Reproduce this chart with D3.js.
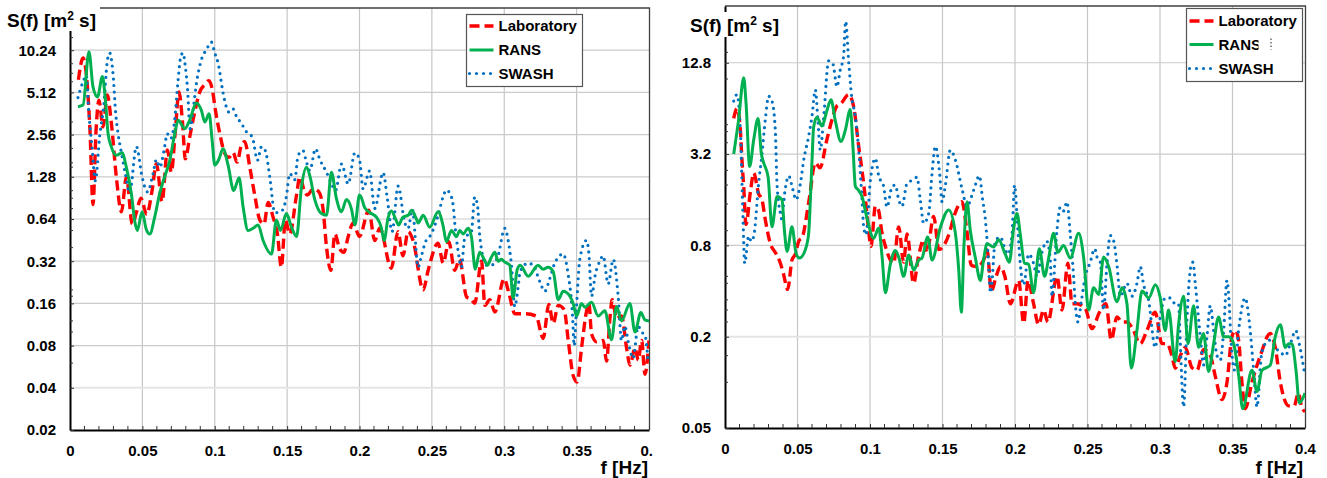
<!DOCTYPE html>
<html><head><meta charset="utf-8">
<script src="https://cdn.jsdelivr.net/npm/d3@7"></script>
<style>
html,body{margin:0;padding:0;background:#fff;}
svg{display:block;font-family:"Liberation Sans",Arial,sans-serif;font-weight:bold;}
</style></head><body>
<svg id="c" width="1327" height="478"></svg>
<script>
// ---------- DATA ----------
const seriesNames = ["Laboratory", "RANS", "SWASH"];
const xTicks = [0, 0.05, 0.1, 0.15, 0.2, 0.25, 0.3, 0.35, 0.4];
const xLabelsA = ["0", "0.05", "0.1", "0.15", "0.2", "0.25", "0.3", "0.35", "0."];
const xLabelsB = ["0", "0.05", "0.1", "0.15", "0.2", "0.25", "0.3", "0.35", "0.4"];
const yTicksA = [0.02, 0.04, 0.08, 0.16, 0.32, 0.64, 1.28, 2.56, 5.12, 10.24];
const yLabelsA = ["0.02", "0.04", "0.08", "0.16", "0.32", "0.64", "1.28", "2.56", "5.12", "10.24"];
const yMinorA = [12.6, 8.2, 7.0, 6.1, 3.15, 2.04, 1.61, 1.5, 1.02, 0.9, 0.76, 0.53, 0.4, 0.2, 0.18, 0.12, 0.1, 0.06];
const yTicksB = [0.05, 0.2, 0.8, 3.2, 12.8];
const yLabelsB = ["0.05", "0.2", "0.8", "3.2", "12.8"];
const yMinorB = [15, 10, 5, 4.5, 3.8, 2.5, 2, 1.5, 1, 0.5, 0.45, 0.35, 0.3, 0.25, 0.15, 0.1];

// left panel: [f (Hz), S(f)]
const leftLab = [[0.0058,6.3],[0.009,9.0],[0.012,5.65],[0.0138,2.75],[0.0159,0.81],[0.018,2.75],[0.020,4.5],[0.0228,2.9],[0.0258,4.9],[0.0286,3.07],[0.032,1.28],[0.0355,0.72],[0.039,1.28],[0.043,0.59],[0.046,0.72],[0.049,0.90],[0.053,0.69],[0.0567,1.02],[0.0597,1.59],[0.0636,0.85],[0.0673,1.99],[0.070,1.38],[0.0728,2.75],[0.0753,5.15],[0.0776,3.25],[0.0797,1.72],[0.0827,2.46],[0.0862,3.72],[0.0896,5.15],[0.093,5.8],[0.096,6.2],[0.0984,5.3],[0.1005,3.8],[0.1035,2.6],[0.107,1.87],[0.1097,1.76],[0.1127,1.9],[0.1154,1.63],[0.1184,2.15],[0.1207,2.28],[0.1242,1.5],[0.1276,0.95],[0.1311,0.63],[0.134,0.59],[0.1369,0.84],[0.1403,0.66],[0.1433,0.50],[0.146,0.29],[0.1488,0.63],[0.1518,0.5],[0.1565,0.95],[0.1588,1.28],[0.1618,1.02],[0.164,0.95],[0.168,1.05],[0.1719,1.0],[0.1749,0.74],[0.1772,0.405],[0.1802,0.275],[0.183,0.5],[0.1864,0.39],[0.1892,0.37],[0.1922,0.48],[0.1956,0.6],[0.2,0.48],[0.2064,0.74],[0.2105,0.45],[0.214,0.55],[0.222,0.285],[0.2266,0.52],[0.230,0.35],[0.2336,0.52],[0.237,0.45],[0.244,0.2],[0.2474,0.275],[0.2543,0.43],[0.2578,0.31],[0.2617,0.44],[0.2658,0.275],[0.269,0.33],[0.274,0.178],[0.2773,0.17],[0.2796,0.16],[0.2843,0.32],[0.2866,0.155],[0.29,0.17],[0.2935,0.139],[0.2999,0.24],[0.3032,0.19],[0.3073,0.135],[0.315,0.135],[0.322,0.13],[0.3269,0.09],[0.3308,0.157],[0.3338,0.115],[0.3373,0.155],[0.3414,0.145],[0.3442,0.087],[0.3476,0.049],[0.3504,0.044],[0.3534,0.077],[0.3568,0.14],[0.3585,0.16],[0.3603,0.097],[0.3638,0.085],[0.3684,0.087],[0.3707,0.062],[0.373,0.125],[0.3746,0.17],[0.3776,0.125],[0.381,0.13],[0.3845,0.077],[0.3868,0.058],[0.3903,0.077],[0.3926,0.063],[0.3949,0.087],[0.3972,0.05],[0.4,0.087]];
const leftRans = [[0.0055,4.05],[0.009,4.16],[0.0131,10.0],[0.0159,5.6],[0.019,4.75],[0.0224,6.65],[0.0244,4.6],[0.0263,2.6],[0.0286,2.09],[0.032,1.82],[0.036,1.9],[0.0389,1.5],[0.0424,0.97],[0.0447,0.62],[0.0465,0.53],[0.0498,0.72],[0.0527,0.54],[0.0551,0.50],[0.0585,0.66],[0.062,0.98],[0.0654,1.28],[0.0689,1.67],[0.0724,2.6],[0.0747,3.24],[0.0793,2.82],[0.0827,3.25],[0.0873,4.3],[0.0908,3.8],[0.0931,3.15],[0.0961,3.6],[0.0982,2.33],[0.100,1.55],[0.1028,1.7],[0.1057,2.03],[0.1092,1.55],[0.1131,1.02],[0.1168,1.26],[0.1196,0.78],[0.1230,0.53],[0.1265,0.55],[0.13,0.58],[0.1334,0.45],[0.1392,0.36],[0.1426,0.63],[0.1454,0.53],[0.1495,0.7],[0.153,0.56],[0.1565,0.48],[0.1599,1.08],[0.1634,1.5],[0.1657,1.3],[0.1691,0.88],[0.1737,0.7],[0.1772,0.68],[0.1806,1.38],[0.184,0.9],[0.1875,0.72],[0.191,0.88],[0.1945,0.75],[0.1968,0.58],[0.2,0.95],[0.2013,0.91],[0.2036,0.77],[0.2082,0.7],[0.2117,0.66],[0.215,0.56],[0.217,0.45],[0.2197,0.65],[0.222,0.73],[0.2255,0.62],[0.227,0.58],[0.230,0.66],[0.2336,0.68],[0.236,0.74],[0.2393,0.64],[0.2405,0.6],[0.244,0.68],[0.2485,0.56],[0.2543,0.72],[0.2578,0.57],[0.26,0.44],[0.2635,0.53],[0.267,0.48],[0.2693,0.53],[0.2716,0.5],[0.275,0.55],[0.2773,0.48],[0.28,0.28],[0.283,0.37],[0.2861,0.33],[0.2884,0.3],[0.291,0.34],[0.2935,0.37],[0.2958,0.32],[0.298,0.33],[0.3004,0.315],[0.3038,0.3],[0.3061,0.175],[0.309,0.28],[0.311,0.3],[0.3165,0.25],[0.3234,0.3],[0.3269,0.28],[0.3303,0.29],[0.3338,0.27],[0.3373,0.17],[0.3407,0.195],[0.3453,0.18],[0.3476,0.16],[0.35,0.13],[0.3534,0.16],[0.3557,0.15],[0.3603,0.163],[0.3649,0.13],[0.3695,0.142],[0.3741,0.088],[0.3776,0.152],[0.381,0.12],[0.3868,0.16],[0.3903,0.1],[0.3944,0.138],[0.3972,0.122],[0.4,0.12]];
const leftSwash = [[0.0055,4.7],[0.009,6.1],[0.0113,6.8],[0.0129,3.8],[0.0152,2.1],[0.0175,1.2],[0.0205,2.5],[0.0235,4.3],[0.0256,8.3],[0.0274,9.8],[0.0297,7.0],[0.0316,3.6],[0.0332,2.6],[0.035,2.03],[0.0382,1.35],[0.0412,0.99],[0.0459,2.1],[0.0498,1.28],[0.0535,1.0],[0.0574,1.35],[0.0597,1.7],[0.062,1.5],[0.0654,2.1],[0.0671,2.6],[0.0696,2.4],[0.0723,3.25],[0.0747,6.3],[0.0765,9.2],[0.0781,9.8],[0.0797,7.8],[0.0811,5.6],[0.083,2.82],[0.085,3.8],[0.0873,5.9],[0.0908,8.8],[0.0942,10.3],[0.0977,11.7],[0.1,9.8],[0.1023,8.3],[0.1058,5.05],[0.1081,4.0],[0.1099,3.7],[0.1127,3.9],[0.115,3.45],[0.1184,3.08],[0.1219,2.68],[0.126,2.45],[0.1295,1.68],[0.1323,2.1],[0.135,1.96],[0.138,1.28],[0.1415,0.71],[0.1449,0.72],[0.1472,0.75],[0.1495,0.93],[0.1518,1.35],[0.1553,1.22],[0.1576,1.82],[0.161,1.97],[0.1629,1.7],[0.1657,1.42],[0.1696,2.03],[0.1726,1.7],[0.1772,1.38],[0.1818,1.08],[0.1834,1.02],[0.1876,1.58],[0.1922,1.14],[0.1968,1.9],[0.2,1.7],[0.2025,1.05],[0.207,1.41],[0.2105,0.76],[0.2163,1.37],[0.2192,0.9],[0.2225,0.52],[0.2267,1.1],[0.2313,0.6],[0.2336,0.55],[0.2365,0.75],[0.2405,0.29],[0.2428,0.35],[0.246,0.45],[0.2485,0.48],[0.2543,0.68],[0.2577,0.92],[0.26,1.03],[0.2623,0.98],[0.2647,0.8],[0.2658,0.6],[0.2681,0.38],[0.2704,0.29],[0.2727,0.47],[0.2773,0.52],[0.2796,0.92],[0.2815,0.8],[0.2832,0.47],[0.2877,0.3],[0.2912,0.3],[0.2957,0.35],[0.3004,0.55],[0.3027,0.45],[0.305,0.3],[0.3073,0.152],[0.3096,0.21],[0.311,0.27],[0.3165,0.31],[0.3199,0.3],[0.3245,0.23],[0.328,0.195],[0.3314,0.24],[0.3349,0.31],[0.3407,0.36],[0.3441,0.26],[0.3472,0.13],[0.3483,0.08],[0.3499,0.15],[0.3522,0.33],[0.3568,0.45],[0.3585,0.36],[0.3603,0.18],[0.363,0.26],[0.366,0.32],[0.3683,0.35],[0.3718,0.22],[0.3753,0.33],[0.3787,0.18],[0.381,0.087],[0.3833,0.11],[0.3857,0.085],[0.389,0.065],[0.3925,0.11],[0.3949,0.1],[0.3972,0.095],[0.3995,0.059]];

// right panel: [f (Hz), S(f)]
const rightLab = [[0.006,5.5],[0.0083,6.4],[0.0106,4.6],[0.0117,2.93],[0.0129,1.96],[0.0145,1.1],[0.0175,1.8],[0.0198,2.4],[0.0232,1.75],[0.0255,1.6],[0.0278,1.18],[0.0313,0.82],[0.035,0.71],[0.0382,0.61],[0.0403,0.52],[0.0432,0.41],[0.0462,0.64],[0.0485,0.7],[0.0508,0.85],[0.0534,0.91],[0.058,1.6],[0.0623,2.8],[0.0655,2.6],[0.0703,4.0],[0.0738,5.4],[0.077,6.6],[0.08,6.9],[0.0853,7.9],[0.0887,6.6],[0.0922,3.6],[0.0945,2.5],[0.0972,1.5],[0.099,1.01],[0.1007,0.79],[0.1037,1.45],[0.106,1.35],[0.108,1.0],[0.1106,0.79],[0.1163,0.61],[0.1198,1.06],[0.1232,0.62],[0.1255,0.95],[0.1301,0.45],[0.1335,0.68],[0.137,0.87],[0.1393,0.72],[0.1439,1.24],[0.1475,0.75],[0.151,0.8],[0.1545,0.95],[0.158,1.25],[0.1634,1.55],[0.1668,1.0],[0.1699,0.59],[0.1738,0.58],[0.1784,0.64],[0.1807,0.75],[0.1837,0.4],[0.187,0.5],[0.1899,0.58],[0.193,0.5],[0.1968,0.33],[0.2025,0.47],[0.206,0.245],[0.209,0.47],[0.2128,0.33],[0.2163,0.24],[0.2197,0.30],[0.2227,0.25],[0.229,0.5],[0.2324,0.30],[0.2365,0.61],[0.2393,0.33],[0.2428,0.33],[0.2462,0.32],[0.249,0.3],[0.253,0.226],[0.2583,0.29],[0.2627,0.33],[0.2664,0.19],[0.2703,0.27],[0.2738,0.25],[0.2772,0.25],[0.2807,0.23],[0.2864,0.18],[0.291,0.22],[0.2967,0.29],[0.3013,0.18],[0.3048,0.18],[0.3082,0.15],[0.3105,0.124],[0.314,0.15],[0.3174,0.17],[0.322,0.125],[0.3255,0.12],[0.3301,0.165],[0.3347,0.15],[0.3381,0.11],[0.3427,0.077],[0.3462,0.1],[0.3496,0.2],[0.352,0.22],[0.3542,0.19],[0.3565,0.1],[0.3588,0.067],[0.3634,0.1],[0.3692,0.15],[0.376,0.21],[0.3795,0.17],[0.383,0.1],[0.3887,0.07],[0.3925,0.07],[0.3955,0.085],[0.3975,0.07],[0.4,0.064]];
const rightRans = [[0.006,3.2],[0.0094,5.4],[0.0129,10.2],[0.0145,6.95],[0.017,2.65],[0.0198,3.97],[0.0228,5.5],[0.0251,3.2],[0.0267,2.8],[0.0297,2.27],[0.0324,1.06],[0.0359,1.68],[0.0393,1.6],[0.041,1.0],[0.0428,0.73],[0.0462,1.06],[0.049,0.71],[0.0513,0.66],[0.0554,0.75],[0.0577,0.96],[0.0593,2.0],[0.0602,3.2],[0.0611,4.8],[0.0634,5.6],[0.0669,4.9],[0.0703,6.2],[0.0731,7.3],[0.0761,5.3],[0.08,3.87],[0.083,4.6],[0.0864,6.3],[0.0883,3.5],[0.0899,1.96],[0.092,1.85],[0.0945,1.68],[0.098,1.2],[0.1025,0.89],[0.106,1.04],[0.1083,0.68],[0.1106,0.39],[0.114,0.6],[0.1175,0.74],[0.12,0.66],[0.1232,0.50],[0.1267,0.69],[0.1301,0.55],[0.1336,0.64],[0.1359,0.66],[0.1398,0.91],[0.1428,0.64],[0.1485,1.05],[0.1543,1.37],[0.1589,0.96],[0.1612,0.55],[0.163,0.29],[0.1648,0.8],[0.1669,1.55],[0.1692,1.0],[0.1727,0.66],[0.1761,0.47],[0.1784,0.65],[0.1807,0.82],[0.1853,0.78],[0.1887,0.87],[0.1933,0.7],[0.1961,0.62],[0.199,1.03],[0.2014,1.3],[0.2036,0.95],[0.2066,0.61],[0.2094,0.6],[0.2128,0.39],[0.2168,0.76],[0.2204,0.5],[0.2232,0.66],[0.2266,0.96],[0.2296,0.72],[0.2335,0.8],[0.2381,0.66],[0.2439,0.96],[0.2473,0.67],[0.2508,0.3],[0.2542,0.42],[0.2577,0.38],[0.2611,0.67],[0.2646,0.58],[0.2703,0.34],[0.2738,0.42],[0.2772,0.33],[0.2802,0.124],[0.2841,0.22],[0.2876,0.4],[0.2922,0.36],[0.2968,0.44],[0.3002,0.36],[0.3036,0.22],[0.3059,0.3],[0.3105,0.137],[0.3128,0.24],[0.3163,0.37],[0.3193,0.18],[0.3232,0.32],[0.3266,0.17],[0.33,0.21],[0.3335,0.118],[0.337,0.18],[0.3404,0.27],[0.3439,0.2],[0.3474,0.2],[0.3508,0.18],[0.3543,0.11],[0.357,0.067],[0.3634,0.12],[0.3669,0.087],[0.3703,0.12],[0.3761,0.13],[0.3795,0.2],[0.383,0.24],[0.3864,0.17],[0.3887,0.18],[0.391,0.18],[0.3938,0.12],[0.3961,0.073],[0.4,0.085]];
const rightSwash = [[0.006,7.15],[0.0083,7.9],[0.0106,4.6],[0.0122,1.44],[0.0136,0.61],[0.0163,0.92],[0.0182,0.85],[0.02,0.94],[0.0232,2.06],[0.0255,3.2],[0.0278,5.4],[0.0301,7.7],[0.0324,7.15],[0.0347,4.6],[0.0359,2.0],[0.0382,1.3],[0.0389,1.2],[0.0416,1.9],[0.0439,2.3],[0.0466,1.9],[0.049,1.6],[0.052,2.05],[0.0543,2.93],[0.0577,4.2],[0.06,5.7],[0.0623,8.5],[0.064,5.5],[0.0657,3.4],[0.068,5.5],[0.0715,13.2],[0.0745,12.5],[0.0772,8.9],[0.0795,11.5],[0.0818,14.2],[0.0832,24],[0.0853,13],[0.0874,7.6],[0.0897,5.8],[0.0922,3.4],[0.0945,1.6],[0.0956,1.07],[0.0972,0.94],[0.1003,2.16],[0.1037,3.0],[0.106,2.3],[0.1094,1.96],[0.1117,1.43],[0.1152,1.95],[0.1175,2.0],[0.1198,1.6],[0.1221,1.45],[0.1255,2.05],[0.129,2.15],[0.1324,2.25],[0.1347,1.6],[0.137,1.12],[0.1405,1.3],[0.1428,2.4],[0.1451,3.6],[0.148,2.4],[0.1497,1.55],[0.152,2.0],[0.1554,3.4],[0.159,2.9],[0.1634,1.9],[0.1669,1.45],[0.1715,1.85],[0.1754,2.3],[0.1777,1.6],[0.1795,1.2],[0.181,0.8],[0.1832,0.39],[0.1864,0.85],[0.1899,0.91],[0.1933,0.75],[0.1952,0.7],[0.198,0.96],[0.1997,2.0],[0.2013,1.3],[0.2025,0.85],[0.2036,0.61],[0.206,0.44],[0.2094,0.7],[0.213,0.6],[0.2151,0.5],[0.2186,0.72],[0.222,0.85],[0.2243,0.65],[0.2255,0.37],[0.2289,1.0],[0.2312,1.43],[0.2335,1.35],[0.2358,1.55],[0.2381,0.95],[0.2404,0.5],[0.2416,0.33],[0.2434,0.25],[0.2457,0.34],[0.2485,0.5],[0.2519,0.62],[0.2549,0.76],[0.2572,0.64],[0.2588,0.62],[0.2611,0.3],[0.2634,0.6],[0.2657,0.93],[0.268,0.86],[0.2703,0.6],[0.2726,0.37],[0.2772,0.45],[0.2807,0.37],[0.2841,0.45],[0.2864,0.58],[0.2887,0.44],[0.2921,0.35],[0.2967,0.17],[0.2992,0.24],[0.3036,0.36],[0.307,0.36],[0.3105,0.33],[0.3128,0.33],[0.314,0.18],[0.3163,0.069],[0.3186,0.26],[0.321,0.56],[0.3227,0.62],[0.3245,0.43],[0.3278,0.2],[0.33,0.13],[0.3324,0.2],[0.3347,0.32],[0.337,0.22],[0.3393,0.15],[0.3416,0.14],[0.3439,0.22],[0.3462,0.47],[0.3474,0.37],[0.3491,0.18],[0.3515,0.12],[0.3542,0.22],[0.3588,0.36],[0.3616,0.25],[0.3646,0.12],[0.3669,0.069],[0.3699,0.15],[0.3726,0.18],[0.3761,0.19],[0.3795,0.17],[0.384,0.155],[0.3864,0.15],[0.3899,0.18],[0.3936,0.22],[0.396,0.18],[0.4,0.11]];

// ---------- LAYOUT / STYLE ----------
const styles = [
  {color: "#ff0000", width: 3.4, dash: "10,5", cap: "butt"},
  {color: "#00b050", width: 3, dash: null, cap: "butt"},
  {color: "#0070c0", width: 3.2, dash: "0,6.5", cap: "round"}
];
const panels = [
  {x0: 70, x1: 649, yTop: 8, yBot: 430, yDom: [0.02, 20.48], yTicks: yTicksA, yLabels: yLabelsA, yMinor: yMinorA,
   xLabels: xLabelsA, data: [leftLab, leftRans, leftSwash], lightTick: 0.04,
   title: {x: 7, y: 27, box: [0, 0, 100, 31]}, fx: 648, legend: {x: 466, y: 14, w: 116, h: 72, rows: [26, 50, 73.5]}, clipRans: null},
  {x0: 725, x1: 1305, yTop: 6, yBot: 428, yDom: [0.05, 30.3], yTicks: yTicksB, yLabels: yLabelsB, yMinor: yMinorB,
   xLabels: xLabelsB, data: [rightLab, rightRans, rightSwash], lightTick: 0.2,
   title: {x: 690, y: 32, box: [686, 12, 96, 25]}, fx: 1303, legend: {x: 1186, y: 8, w: 116, h: 73, rows: [21, 44.5, 68.5]}, clipRans: 1258.5}
];

const svg = d3.select("#c");
const defs = svg.append("defs");

panels.forEach((p, pi) => {
  const g = svg.append("g");
  const x = d3.scaleLinear().domain([0, 0.4]).range([p.x0, p.x1]);
  const y = d3.scaleLog().base(2).domain(p.yDom).range([p.yBot, p.yTop]);

  // grid
  g.append("g").selectAll("line").data(xTicks.slice(1, -1)).join("line")
    .attr("x1", d => x(d)).attr("x2", d => x(d)).attr("y1", p.yTop).attr("y2", p.yBot)
    .attr("stroke", "#c6c6c6").attr("stroke-width", 1.2);
  g.append("g").selectAll("line").data(p.yTicks.slice(1)).join("line")
    .attr("x1", p.x0).attr("x2", p.x1).attr("y1", d => y(d)).attr("y2", d => y(d))
    .attr("stroke", d => d === p.lightTick ? "#e4e4e4" : "#cbcbcb")
    .attr("stroke-width", d => d === p.lightTick ? 2 : 1.2);

  // frame (top, right)
  g.append("path").attr("d", `M${p.x0},${p.yTop}H${p.x1 + 0.5}V${p.yBot}`)
    .attr("fill", "none").attr("stroke", "#404040").attr("stroke-width", 1.3);

  // series
  const cid = "clip" + pi;
  defs.append("clipPath").attr("id", cid).append("rect")
    .attr("x", p.x0).attr("y", p.yTop).attr("width", p.x1 - p.x0).attr("height", p.yBot - p.yTop);
  const line = d3.line().x(d => x(d[0])).y(d => y(d[1])).curve(d3.curveMonotoneX);
  const sg = g.append("g").attr("clip-path", `url(#${cid})`);
  [0, 2, 1].forEach(si => {
    const s = styles[si];
    sg.append("path").datum(p.data[si]).attr("d", line)
      .attr("fill", "none").attr("stroke", s.color).attr("stroke-width", s.width)
      .attr("stroke-dasharray", s.dash).attr("stroke-linecap", s.cap).attr("stroke-linejoin", "round");
  });

  // x axis
  const xa = g.append("g").attr("transform", `translate(0,${p.yBot})`)
    .call(d3.axisBottom(x).tickValues(xTicks).tickFormat((d, i) => p.xLabels[i]).tickSizeInner(-4).tickSizeOuter(0).tickPadding(15));
  xa.select(".domain").attr("stroke", "#000").attr("stroke-width", 2);
  xa.selectAll(".tick line").attr("stroke", "#333");
  xa.selectAll("text").attr("font-size", 15).attr("font-weight", "bold").attr("fill", "#000")
    .attr("font-family", '"Liberation Sans",Arial,sans-serif');
  if (pi === 0) xa.selectAll(".tick").filter(d => d === 0.4).select("text").attr("text-anchor", "start").attr("x", -9);
  g.append("g").selectAll("line").data(d3.range(1, 40).filter(k => k % 5 !== 0).map(k => k / 100)).join("line")
    .attr("x1", d => x(d)).attr("x2", d => x(d)).attr("y1", p.yBot).attr("y2", p.yBot - 4)
    .attr("stroke", "#333").attr("stroke-width", 1);

  // y axis
  const ya = g.append("g").attr("transform", `translate(${p.x0},0)`)
    .call(d3.axisLeft(y).tickValues(p.yTicks).tickFormat((d, i) => p.yLabels[i]).tickSizeInner(-4).tickSizeOuter(0).tickPadding(14));
  ya.select(".domain").attr("stroke", "#000").attr("stroke-width", 2);
  ya.selectAll(".tick line").attr("stroke", "#333");
  ya.selectAll("text").attr("font-size", 15).attr("font-weight", "bold").attr("fill", "#000")
    .attr("font-family", '"Liberation Sans",Arial,sans-serif');
  g.append("g").selectAll("line").data(p.yMinor).join("line")
    .attr("x1", p.x0).attr("x2", p.x0 + 3).attr("y1", d => y(d)).attr("y2", d => y(d))
    .attr("stroke", "#333").attr("stroke-width", 1);

  // y title
  const tb = p.title.box;
  g.append("rect").attr("x", tb[0]).attr("y", tb[1]).attr("width", tb[2]).attr("height", tb[3]).attr("fill", "#fff");
  const t = g.append("text").attr("x", p.title.x).attr("y", p.title.y).attr("font-size", 19).attr("fill", "#000");
  t.append("tspan").text("S(f) [m");
  t.append("tspan").attr("font-size", 12).attr("dy", -7).text("2");
  t.append("tspan").attr("dy", 7).text(" s]");

  // x title
  g.append("text").attr("x", p.fx).attr("y", 474).attr("text-anchor", "end").attr("font-size", 19).attr("fill", "#000").text("f [Hz]");

  // legend
  const L = p.legend;
  const lg = g.append("g");
  lg.append("rect").attr("x", L.x + 0.5).attr("y", L.y + 0.5).attr("width", L.w).attr("height", L.h)
    .attr("fill", "#fff").attr("stroke", "#555").attr("stroke-width", 1.2);
  seriesNames.forEach((name, si) => {
    const s = styles[si];
    const yy = L.rows[si];
    lg.append("line").attr("x1", L.x + 3.5).attr("x2", L.x + 27.5).attr("y1", yy).attr("y2", yy)
      .attr("stroke", s.color).attr("stroke-width", s.width).attr("stroke-dasharray", si === 2 ? "0,7" : s.dash)
      .attr("stroke-linecap", s.cap);
    const tx = lg.append("text").attr("x", L.x + 32.5).attr("y", yy + 5.3).attr("font-size", 15).attr("fill", "#000").text(name);
    if (si === 1 && p.clipRans) {
      const rc = "rclip" + pi;
      defs.append("clipPath").attr("id", rc).append("rect").attr("x", L.x).attr("y", yy - 15).attr("width", p.clipRans - L.x).attr("height", 30);
      tx.attr("clip-path", `url(#${rc})`);
      lg.append("line").attr("x1", 1271).attr("x2", 1271).attr("y1", yy - 6).attr("y2", yy + 5)
        .attr("stroke", "#444").attr("stroke-width", 1.2).attr("stroke-dasharray", "1.5,2");
    }
  });
});
</script>
</body></html>
